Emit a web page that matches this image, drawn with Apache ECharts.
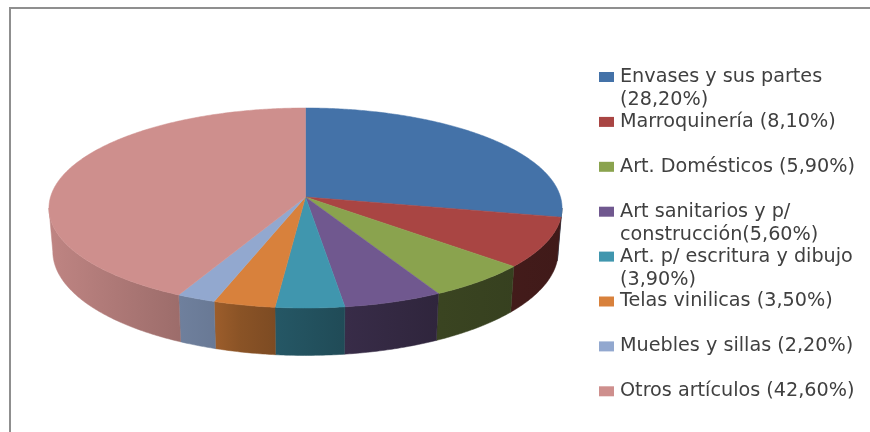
<!DOCTYPE html>
<html>
<head>
<meta charset="utf-8">
<style>html,body{margin:0;padding:0;background:#fff}#chart{width:870px;height:432px}</style>
<script src="https://cdn.jsdelivr.net/npm/echarts@6/dist/echarts.min.js"></script>
</head>
<body>
<div id="chart"></div>
<script>
// Share of each product group, in percent
const labels = [
  'Envases y sus partes\n(28,20%)',
  'Marroquinería (8,10%)',
  'Art. Domésticos (5,90%)',
  'Art sanitarios y p/\nconstrucción(5,60%)',
  'Art. p/ escritura y dibujo\n(3,90%)',
  'Telas vinilicas (3,50%)',
  'Muebles y sillas (2,20%)',
  'Otros artículos (42,60%)'
];
const shares = [28.2, 8.1, 5.9, 5.6, 3.9, 3.5, 2.2, 42.6];
const colors = ['#4472A8', '#A94543', '#8AA34E', '#70588F', '#4096AE', '#D8813C', '#92A8CF', '#CE8F8D'];

// Perspective disc: hub position, radii, foreshortening, and the transform of the lower rim
const hub = { x: 305.5, y: 197 };
const radius = { a: 255, b: 98.8, p: 0.11 };
const faceRing = { sx: 1, sy: 1, drop: 0 };
const rimRing = { sx: 0.985, sy: 1.04, drop: 43 };
// Wall brightness by horizontal position: light from the left
const wallRange = [49, 562];
const wallShade = [[52, .92], [178, .76], [215, .72], [240, .64], [275, .58], [345, .5], [440, .42], [562, .38]];

const chart = echarts.init(document.getElementById('chart'), null, { renderer: 'canvas' });

function project(pct, ring) {
  const t = pct / 100 * 2 * Math.PI;
  const u = Math.sin(t), v = Math.cos(t);
  const w = 1 + radius.p * v;
  return [
    hub.x + ring.sx * radius.a * u / w,
    hub.y - ring.sy * radius.b * v / w + ring.drop
  ];
}

function arc(from, to, ring) {
  const pts = [];
  const n = Math.max(2, Math.ceil((to - from) / 0.15));
  for (let i = 0; i <= n; i++) pts.push(project(from + (to - from) * i / n, ring));
  return pts;
}

function shade(hex, f) {
  const n = parseInt(hex.slice(1), 16);
  const c = [n >> 16, (n >> 8) & 255, n & 255].map(x => Math.round(x * f));
  return 'rgb(' + c.join(',') + ')';
}

function wallFill(color) {
  const span = wallRange[1] - wallRange[0];
  const stops = wallShade.map(s => ({ offset: (s[0] - wallRange[0]) / span, color: shade(color, s[1]) }));
  return new echarts.graphic.LinearGradient(wallRange[0], 0, wallRange[1], 0, stops, true);
}

// The outer wall is visible only between the two side tangents of the disc
const tangent = Math.acos(-radius.p) / (2 * Math.PI) * 100;
const visible = [tangent, 100 - tangent];

function renderSlice(params, api) {
  const start = api.value(0), end = api.value(1);
  const color = colors[params.seriesIndex];
  const children = [];
  const wFrom = Math.max(start, visible[0]), wTo = Math.min(end, visible[1]);
  if (wTo > wFrom) {
    const pts = arc(wFrom, wTo, faceRing).concat(arc(wFrom, wTo, rimRing).reverse());
    const fill = wallFill(color);
    children.push({ type: 'polygon', shape: { points: pts }, style: { fill: fill, stroke: fill, lineWidth: 0.5 } });
  }
  const face = [[hub.x, hub.y]].concat(arc(start, end, faceRing));
  children.push({ type: 'polygon', shape: { points: face }, style: { fill: color, stroke: color, lineWidth: 0.5 } });
  return { type: 'group', children: children };
}

let running = 0;
const series = shares.map((share, i) => {
  const from = running;
  running += share;
  return {
    type: 'custom',
    name: labels[i],
    coordinateSystem: 'none',
    renderItem: renderSlice,
    itemStyle: { color: colors[i] },
    data: [[from, running]],
    silent: true
  };
});

// One legend block per entry so the rows keep an even pitch whatever their line count
const rowTop = 77, rowPitch = 44.9, lineHeight = 23;
const legends = labels.map((label, i) => {
  const twoLines = label.indexOf('\n') >= 0;
  const blockHeight = twoLines ? lineHeight * 3 : lineHeight;
  return {
    data: [label],
    left: 599,
    top: rowTop + rowPitch * i - blockHeight / 2,
    padding: 0,
    itemWidth: 15,
    itemHeight: 10,
    icon: 'rect',
    selectedMode: false,
    // A leading blank line keeps the marker level with the first text line
    formatter: n => (n.indexOf('\n') >= 0 ? ' \n' + n : n),
    textStyle: {
      fontFamily: 'DejaVu Sans',
      fontSize: 19.2,
      lineHeight: lineHeight,
      color: '#404040',
      padding: [0, 0, 0, 1]
    }
  };
});

chart.setOption({
  animation: false,
  backgroundColor: '#ffffff',
  legend: legends,
  series: series,
  graphic: [{
    type: 'rect',
    silent: true,
    z: -1,
    shape: { x: 10, y: 8, width: 1000, height: 600 },
    style: { fill: 'none', stroke: '#8f8f8f', lineWidth: 2 }
  }]
});
</script>
</body>
</html>
